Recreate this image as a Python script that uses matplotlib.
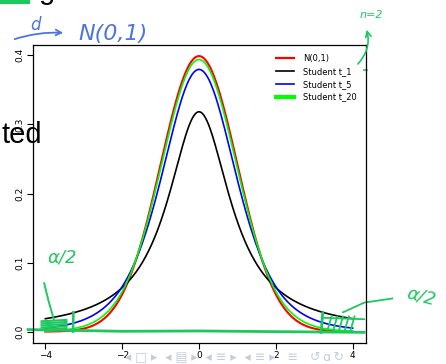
import math
import numpy as np
import matplotlib
matplotlib.use("Agg")
import matplotlib.pyplot as plt

# ---- data ----
x_range = (-4, 4)
dists = ["normal", "t", "t", "t"]
dfs = [None, 1, 5, 20]
labels = ["N(0,1)", "Student t_1", "Student t_5", "Student t_20"]
colors = ["#ff0000", "#000000", "#0000ff", "#00ff00"]
legend_lw = [1.6, 1.2, 1.2, 3.0]
x_ticks = [-4, -2, 0, 2, 4]
y_ticks = [0.0, 0.1, 0.2, 0.3, 0.4]
y_ticklabels = ["0.0", "0.1", "0.2", "0.3", "0.4"]


def normal_pdf(x):
    return np.exp(-x ** 2 / 2) / math.sqrt(2 * math.pi)


def t_pdf(x, n):
    c = math.gamma((n + 1) / 2) / (math.sqrt(n * math.pi) * math.gamma(n / 2))
    return c * (1 + x ** 2 / n) ** (-(n + 1) / 2)


W, H = 446, 364
fig = plt.figure(figsize=(W / 100, H / 100), dpi=100)
ax = fig.add_axes([32.7 / W, 1 - 342.7 / H, (365.7 - 32.7) / W, (342.7 - 45) / H])

xs = np.linspace(x_range[0], x_range[1], 400)
for d, n, lab, col in zip(dists, dfs, labels, colors):
    ys = normal_pdf(xs) if d == "normal" else t_pdf(xs, n)
    ax.plot(xs, ys, color=col, lw=1.2 if col != "#ff0000" else 1.5, label=lab)

ax.set_xlim(-4.33, 4.34)
ax.set_ylim(-0.016, 0.415)
ax.set_xticks(x_ticks)
ax.set_xticklabels([str(v).replace("-", "\u2212") for v in x_ticks])
ax.set_yticks(y_ticks)
ax.set_yticklabels(y_ticklabels, rotation=90, va="center")
ax.tick_params(labelsize=6.5, length=4, width=0.8, direction="out", pad=2)
for s in ax.spines.values():
    s.set_linewidth(0.9)

leg = ax.legend(loc="upper right", frameon=False, fontsize=6,
                handlelength=2.2, handletextpad=1.0, labelspacing=0.45,
                borderaxespad=0.7)
for h, lw in zip(leg.get_lines(), legend_lw):
    h.set_linewidth(lw)

# ---- slide decorations ----
fig.text(42 / W, 1 - 143 / H, "ted", fontsize=21, ha="right", va="baseline",
         color="black", family="Liberation Sans")
fig.text(47 / W, 1 + 1 / H, "g", fontsize=21, ha="center", va="baseline",
         color="black", family="Liberation Sans")
fig.add_artist(plt.Line2D([0, 28 / W], [1 - 1.5 / H, 1 - 1.5 / H],
                          color="#1dc85e", lw=3))
fig.text(125 / W, 1 - 360 / H,
         "\u25c2 \u25a1 \u25b8  \u25c2 \u25a4 \u25b8  \u25c2 \u2261 \u25b8  \u25c2 \u2261 \u25b8   \u2261   \u21ba\u2009\u0251\u2009\u21bb",
         fontsize=9, color="#c5cbe0", va="baseline", family="DejaVu Sans")

# blue handwriting
blue = "#4d74e0"
fig.text(30 / W, 1 - 30 / H, "d", fontsize=12, color=blue, style="italic")
ax.annotate("", xy=(66 / W, 1 - 33 / H), xytext=(12 / W, 1 - 40 / H),
            xycoords="figure fraction",
            arrowprops=dict(arrowstyle="->", color=blue, lw=1.3,
                            connectionstyle="arc3,rad=-0.1"))
fig.text(78 / W, 1 - 40 / H, "N(0,1)", fontsize=16, color=blue, style="italic")

# green handwriting
green = "#1dc85e"
fig.text(360 / W, 1 - 18 / H, "n=2", fontsize=8, color=green, style="italic")
ax.annotate("", xy=(366 / W, 1 - 27 / H), xytext=(356 / W, 1 - 66 / H),
            xycoords="figure fraction",
            arrowprops=dict(arrowstyle="->", color=green, lw=1.2,
                            connectionstyle="arc3,rad=0.3"))
ax.plot([4.3, 4.38], [0.379, 0.379], color=green, lw=1.2, clip_on=False)

ax.plot([-4.45, -2, 0, 2, 4.3], [0.003, 0.0005, 0.001, 0.0, -0.001],
        color=green, lw=2, clip_on=False)
# left tail
ax.plot([-3.28, -3.27], [0.0, 0.028], color=green, lw=1.8)
for yy in np.arange(0.003, 0.016, 0.003):
    ax.plot([-4.1, -3.45], [yy, yy + 0.002], color=green, lw=1.5)
ax.plot([-4.03, -3.92, -3.78], [0.07, 0.045, 0.018], color=green, lw=1.4)
ax.text(-3.95, 0.1, "\u03b1/2", fontsize=13, color=green, style="italic")
# right tail
ax.plot([3.18, 3.22], [-0.001, 0.027], color=green, lw=2)
for xx in np.arange(3.35, 4.0, 0.15):
    ax.plot([xx, xx + 0.1], [0.003, 0.022], color=green, lw=1.3)
ax.plot([3.25, 4.3], [0.02, 0.018], color=green, lw=1.3, clip_on=False)
ax.plot([3.75, 4.3, 5.03], [0.028, 0.042, 0.048], color=green, lw=1.3, clip_on=False)
fig.text(405 / W, 1 - 305 / H, "\u03b1/2", fontsize=13, color=green,
         style="italic", rotation=-15)

fig.savefig("out.png", dpi=100)
